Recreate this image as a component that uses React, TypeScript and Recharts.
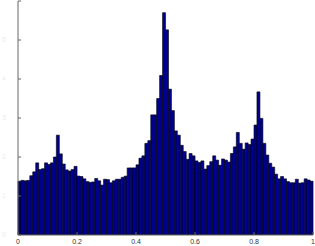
import { BarChart, Bar, XAxis, YAxis } from "recharts";

// histogram counts, 100 bins over [0, 1]
const binCounts = [
  1.38, 1.4, 1.39, 1.4, 1.52, 1.62, 1.85, 1.68, 1.7, 1.85,
  1.81, 1.85, 2.0, 2.56, 2.08, 1.82, 1.67, 1.64, 1.68, 1.76,
  1.51, 1.5, 1.44, 1.37, 1.35, 1.36, 1.45, 1.39, 1.28, 1.43,
  1.42, 1.34, 1.39, 1.43, 1.43, 1.48, 1.51, 1.72, 1.72, 1.72,
  1.8, 1.97, 2.03, 2.35, 2.42, 3.08, 3.08, 3.5, 4.09, 5.7,
  5.26, 3.74, 3.19, 2.67, 2.56, 2.3, 2.14, 1.94, 2.09, 2.03,
  1.9, 1.86, 1.9, 1.69, 1.78, 1.88, 2.03, 1.92, 1.79, 1.95,
  1.92, 1.87, 2.09, 2.26, 2.63, 2.35, 2.2, 2.36, 2.32, 2.46,
  2.82, 3.67, 2.99, 2.35, 2.05, 1.84, 1.74, 1.56, 1.44, 1.5,
  1.44, 1.37, 1.34, 1.34, 1.43, 1.33, 1.34, 1.44, 1.41, 1.38,
];
const xTicks = [0, 0.2, 0.4, 0.6, 0.8, 1];
const yTicks = [0, 1, 2, 3, 4, 5, 6];

const binWidth = 1 / binCounts.length;
const data = binCounts.map((count, i) => ({ bin: i, x: (i + 0.5) * binWidth, count }));

const AXIS = "#666";
const FONT = "Liberation Sans, Arial, sans-serif";

export default function App() {
  return (
    <div style={{ position: "absolute", left: 0, top: 0, background: "#fff" }}>
      <BarChart
        width={315}
        height={246}
        data={data}
        margin={{ top: 1, right: 2, bottom: 0, left: 0 }}
        barCategoryGap={0}
        barGap={0}
      >
        <XAxis
          xAxisId="num"
          dataKey="x"
          type="number"
          domain={[0, 1]}
          ticks={xTicks}
          interval={0}
          allowDataOverflow
          height={11}
          tickSize={-3}
          tickMargin={7}
          stroke={AXIS}
          tick={{ fontSize: 7, fontFamily: FONT, fill: "#333" }}
        />
        <XAxis xAxisId="bins" dataKey="bin" type="category" hide height={0} />
        <XAxis
          xAxisId="top"
          orientation="top"
          dataKey="x"
          type="number"
          domain={[0, 1]}
          ticks={xTicks}
          interval={0}
          allowDataOverflow
          height={0}
          tickSize={-3}
          tick={false}
          stroke={AXIS}
        />
        <YAxis
          yAxisId="left"
          domain={[0, 6]}
          ticks={yTicks}
          interval={0}
          allowDataOverflow
          width={18}
          tickSize={-3}
          tickMargin={15}
          stroke={AXIS}
          tickFormatter={(v: number) => (v === 6 ? "" : String(v))}
          tick={{ fontSize: 7, fontFamily: FONT, fill: "#ececec" }}
        />
        <YAxis
          yAxisId="right"
          orientation="right"
          domain={[0, 6]}
          ticks={yTicks}
          interval={0}
          allowDataOverflow
          width={0}
          tickSize={-3}
          tick={false}
          stroke={AXIS}
        />
        <Bar
          xAxisId="bins"
          yAxisId="left"
          dataKey="count"
          fill="#000090"
          stroke="#000"
          strokeWidth={0.6}
          isAnimationActive={false}
        />
      </BarChart>
    </div>
  );
}
